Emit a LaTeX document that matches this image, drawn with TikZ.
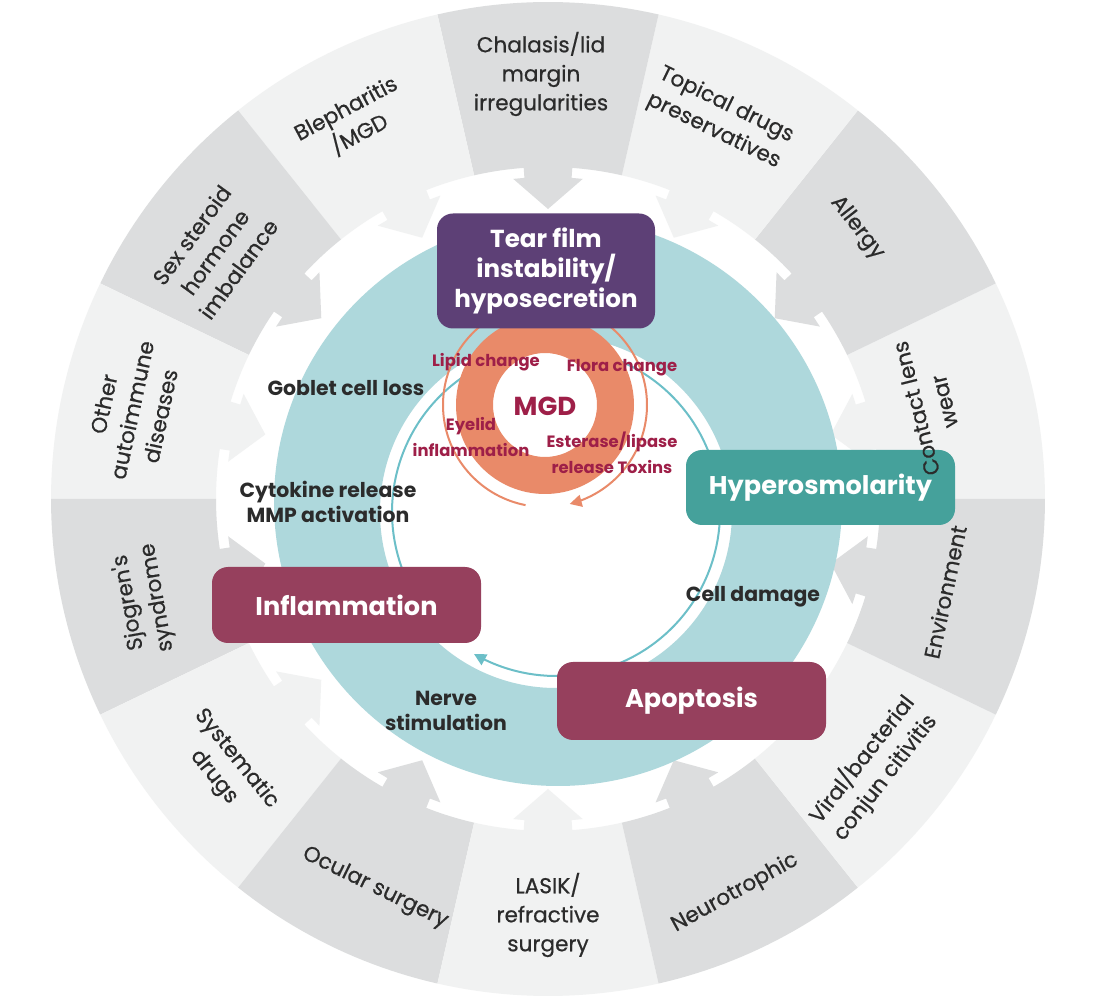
\documentclass[tikz,border=0pt]{standalone}
\usepackage{fontspec}
\setmainfont{Poppins}
\newfontfamily\outerfont{Poppins}[FakeBold=0.6]
\usetikzlibrary{arrows.meta}
\definecolor{segL}{HTML}{F1F2F2}
\definecolor{segD}{HTML}{DCDDDE}
\definecolor{tealring}{HTML}{AED8DC}
\definecolor{tealline}{HTML}{6CBFC8}
\definecolor{hypercol}{HTML}{45A19B}
\definecolor{tearcol}{HTML}{5D4076}
\definecolor{maroon}{HTML}{96405D}
\definecolor{mgdorange}{HTML}{E98A69}
\definecolor{mgdtext}{HTML}{9E1F48}
\definecolor{txtcol}{HTML}{2B2B2B}
\begin{document}
\begin{tikzpicture}[x=0.5pt,y=-0.5pt,
  outerlbl/.style={text=txtcol, align=center, inner sep=0pt, font=\outerfont\fontsize{10.8}{14.5}\selectfont},
  innerlbl/.style={text=txtcol, align=center, inner sep=0pt, font=\bfseries\fontsize{10.2}{12.8}\selectfont},
  mgdlbl/.style={text=mgdtext, align=center, inner sep=0pt, font=\bfseries\fontsize{8.2}{12.8}\selectfont},
  boxnode/.style={rounded corners=8pt, text=white, align=center, inner sep=0pt, font=\bfseries\fontsize{12.8}{15}\selectfont},
]
\useasboundingbox (0,0) rectangle (1100,1000);
\fill[white] (0,0) rectangle (1100,1000);

% outer ring of causes, each with an inward arrow head
\def\ocx{548}\def\ocy{499}
\foreach \k in {0,...,13}{
  \pgfmathsetmacro{\sc}{25.7143*\k+12.857}
  \pgfmathsetmacro{\sl}{\sc-12.857}
  \pgfmathsetmacro{\sr}{\sc+12.857}
  \pgfmathsetmacro{\nl}{\sc-4.2}
  \pgfmathsetmacro{\nr}{\sc+4.2}
  \pgfmathsetmacro{\hl}{\sc-6.2}
  \pgfmathsetmacro{\hr}{\sc+6.2}
  \ifodd\k\relax\def\segcol{segD}\else\def\segcol{segL}\fi
  \fill[\segcol] plot[domain=\sl:\sr,samples=24] ({\ocx+497*cos(\x)},{\ocy-497*sin(\x)})
    -- plot[domain=\sr:\nr,samples=12] ({\ocx+332*cos(\x)},{\ocy-332*sin(\x)})
    -- ({\ocx+322*cos(\nr)},{\ocy-322*sin(\nr)})
    -- ({\ocx+322*cos(\hr)},{\ocy-322*sin(\hr)})
    -- ({\ocx+290*cos(\sc)},{\ocy-290*sin(\sc)})
    -- ({\ocx+322*cos(\hl)},{\ocy-322*sin(\hl)})
    -- ({\ocx+322*cos(\nl)},{\ocy-322*sin(\nl)})
    -- plot[domain=\nl:\sl,samples=12] ({\ocx+332*cos(\x)},{\ocy-332*sin(\x)})
    -- cycle;
}

% teal cycle ring
\fill[tealring, even odd rule] (558,502) circle[radius=284] (556,512) circle[radius=176];
\draw[tealline, line width=1pt, -{Triangle[length=6pt,width=6pt]}]
  plot[domain=215:-120, samples=150] ({556+164*cos(\x)},{512-164*sin(\x)});

% MGD ring
\fill[mgdorange, even odd rule] (545,405) circle[radius=89] (545,405) circle[radius=52];
\draw[mgdorange, line width=1pt, -{Triangle[length=6pt,width=6pt]}]
  plot[domain=259:-76, samples=150] ({545+102*cos(\x)},{405-102*sin(\x)});

% main boxes
\node[boxnode, fill=tearcol, minimum width=109pt, minimum height=57.5pt, font=\bfseries\fontsize{12.3}{15}\selectfont] (tear) at (546,271) {Tear film\\instability/\\hyposecretion};
\node[boxnode, fill=hypercol, minimum width=134.5pt, minimum height=37.5pt] (hyper) at (820.5,487.5) {Hyperosmolarity};
\node[boxnode, fill=maroon, minimum width=134.5pt, minimum height=38pt] (infl) at (346.5,605) {Inflammation};
\node[boxnode, fill=maroon, minimum width=134.5pt, minimum height=39pt] (apop) at (691.5,701) {Apoptosis};

% cycle labels
\node[innerlbl] (gobl) at (346,388) {Goblet cell loss};
\node[innerlbl] (cyto) at (328,502) {Cytokine release\\MMP activation};
\node[innerlbl] (cdam) at (753,597) {Cell damage};
\node[innerlbl] (nerv) at (446,711) {Nerve\\stimulation};

% MGD labels
\node[mgdlbl] (lipi) at (486,362) {Lipid change};
\node[mgdlbl] (flor) at (622,368) {Flora change};
\node[mgdlbl, font=\bfseries\fontsize{13}{15}\selectfont] (mgd) at (545,406) {MGD};
\node[mgdlbl] (eyel) at (471,437) {Eyelid\\inflammation};
\node[mgdlbl] (este) at (612,453) {Esterase/lipase\\release Toxins};

% outer labels
\node[outerlbl] (chal) at (541,74) {Chalasis/lid\\margin\\irregularities};
\node[outerlbl, rotate=-26] (topi) at (720,118) {Topical drugs\\preservatives};
\node[outerlbl, rotate=-52] (alle) at (857,228) {Allergy};
\node[outerlbl, rotate=104] (cont) at (930,405) {Contact lens\\wear};
\node[outerlbl, rotate=78] (envi) at (945,592) {Environment};
\node[outerlbl, rotate=52] (vira) at (873,768) {Viral/bacterial\\conjun citivitis};
\node[outerlbl, rotate=29] (neur) at (735,893) {Neurotrophic};
\node[outerlbl] (lasi) at (548,915) {LASIK/\\refractive\\surgery};
\node[outerlbl, rotate=-26] (ocul) at (375,888) {Ocular surgery};
\node[outerlbl, rotate=-51] (syst) at (225,768) {Systematic\\drugs};
\node[outerlbl, rotate=100] (sjog) at (143,600) {Sjogren's\\syndrome};
\node[outerlbl, rotate=78] (othe) at (132,410) {Other\\autoimmune\\diseases};
\node[outerlbl, rotate=54] (sexs) at (215,252) {Sex steroid\\hormone\\imbalance};
\node[outerlbl, rotate=28] (blep) at (353,122) {Blepharitis\\/MGD};
\end{tikzpicture}
\end{document}
